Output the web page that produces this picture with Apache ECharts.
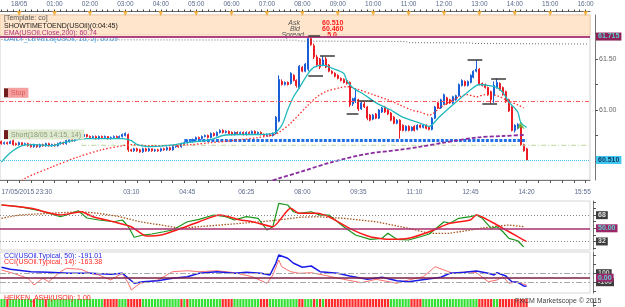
<!DOCTYPE html>
<html>
<head>
<meta charset="utf-8">
<script src="https://cdn.jsdelivr.net/npm/echarts@6/dist/echarts.min.js"></script>
<style>
  html, body { margin: 0; padding: 0; background: #fff; }
  #c { width: 625px; height: 307px; }
</style>
</head>
<body>
<div id="c"></div>
<script>
// USOil 5-minute chart, 17/05 23:30 -> 18/05 14:20 (FXCM Marketscope look)

const slotCount = 200;                 // 5-minute slots shown on the time axis
const firstSlotMinutes = 23 * 60 + 30; // 17/05 23:30

const topTickSlots = ['00:00','01:00','02:00','03:00','04:00','05:00','06:00','07:00','08:00',
  '09:00','10:00','11:00','12:00','13:00','14:00','15:00','16:00'];
const topTickText = ['18/05','01:00','02:00','03:00','04:00','05:00','06:00','07:00','08:00',
  '09:00','10:00','11:00','12:00','13:00','14:00','15:00','16:00'];
const bottomTickSlots = ['23:30','03:10','04:45','06:25','08:00','09:35','11:10','12:45','14:20','15:55'];
const bottomTickText = ['17/05/2015 23:30','03:10','04:45','06:25','08:00','09:35','11:10','12:45','14:20','15:55'];

// [open, close, low, high]
const candles = [
  [60.69,60.67,60.66,60.70],[60.67,60.68,60.66,60.69],[60.68,60.67,60.66,60.69],[60.67,60.69,60.67,60.70],
  [60.70,60.66,60.65,60.71],[60.67,60.66,60.65,60.68],[60.66,60.68,60.65,60.69],[60.68,60.66,60.65,60.68],
  [60.66,60.67,60.65,60.68],[60.67,60.65,60.64,60.68],[60.66,60.64,60.63,60.67],[60.64,60.66,60.63,60.67],
  [60.66,60.64,60.63,60.66],[60.64,60.66,60.63,60.67],[60.66,60.65,60.64,60.67],[60.65,60.67,60.64,60.68],
  [60.67,60.65,60.64,60.68],[60.65,60.66,60.64,60.67],[60.66,60.65,60.64,60.67],[60.65,60.67,60.64,60.68],
  [60.67,60.68,60.66,60.69],[60.68,60.67,60.66,60.69],[60.67,60.70,60.66,60.71],[60.69,60.71,60.68,60.72],
  [60.71,60.70,60.69,60.72],[60.70,60.73,60.69,60.74],[60.73,60.75,60.72,60.76],[60.76,60.74,60.73,60.77],
  [60.74,60.76,60.73,60.77],[60.76,60.74,60.73,60.76],[60.74,60.73,60.72,60.75],[60.73,60.74,60.72,60.75],
  [60.74,60.72,60.71,60.75],[60.72,60.74,60.71,60.75],[60.74,60.73,60.72,60.75],[60.73,60.74,60.72,60.75],
  [60.74,60.72,60.71,60.74],[60.72,60.73,60.71,60.74],[60.73,60.74,60.72,60.75],[60.74,60.73,60.72,60.75],
  [60.73,60.74,60.72,60.75],[60.74,60.76,60.73,60.77],[60.75,60.77,60.74,60.78],[60.76,60.61,60.59,60.77],
  [60.61,60.60,60.59,60.62],[60.60,60.62,60.59,60.63],[60.62,60.60,60.59,60.63],[60.61,60.59,60.58,60.62],
  [60.59,60.62,60.58,60.63],[60.62,60.60,60.59,60.63],[60.60,60.62,60.59,60.63],[60.62,60.60,60.59,60.62],
  [60.60,60.61,60.59,60.62],[60.61,60.60,60.59,60.62],[60.60,60.62,60.59,60.63],[60.62,60.61,60.60,60.63],
  [60.61,60.63,60.60,60.64],[60.63,60.61,60.60,60.64],[60.61,60.64,60.60,60.65],[60.64,60.65,60.63,60.66],
  [60.65,60.64,60.63,60.66],[60.64,60.67,60.63,60.68],[60.67,60.68,60.66,60.69],[60.68,60.70,60.67,60.71],
  [60.70,60.69,60.68,60.71],[60.69,60.71,60.68,60.72],[60.71,60.73,60.70,60.74],[60.73,60.72,60.71,60.74],
  [60.72,60.74,60.71,60.75],[60.74,60.75,60.73,60.76],[60.75,60.73,60.72,60.76],[60.73,60.77,60.72,60.78],
  [60.77,60.75,60.74,60.78],[60.75,60.78,60.74,60.79],[60.78,60.80,60.77,60.81],[60.80,60.78,60.77,60.81],
  [60.78,60.79,60.77,60.80],[60.79,60.77,60.76,60.80],[60.78,60.76,60.75,60.79],[60.76,60.78,60.75,60.79],
  [60.78,60.77,60.76,60.79],[60.77,60.78,60.76,60.79],[60.78,60.76,60.75,60.79],[60.76,60.78,60.75,60.79],
  [60.78,60.77,60.76,60.79],[60.77,60.79,60.76,60.80],[60.79,60.77,60.76,60.80],[60.77,60.78,60.76,60.79],
  [60.78,60.76,60.75,60.79],[60.76,60.75,60.74,60.77],[60.75,60.76,60.74,60.77],[60.76,60.75,60.74,60.77],
  [60.75,60.77,60.74,60.78],[60.77,60.93,60.76,60.94],[60.89,61.30,60.88,61.34],[61.28,61.25,61.24,61.30],
  [61.25,61.27,61.24,61.28],[61.27,61.25,61.24,61.28],[61.26,61.36,61.25,61.37],[61.34,61.29,61.28,61.35],
  [61.29,61.24,61.22,61.30],[61.22,61.43,61.21,61.44],[61.42,61.38,61.37,61.43],[61.38,61.45,61.37,61.46],
  [61.40,61.70,61.38,61.715],[61.70,61.64,61.63,61.71],[61.63,61.52,61.50,61.65],[61.52,61.44,61.42,61.54],
  [61.50,61.42,61.40,61.51],[61.44,61.49,61.43,61.53],[61.50,61.42,61.41,61.52],[61.44,61.38,61.37,61.45],
  [61.38,61.36,61.35,61.39],[61.36,61.33,61.32,61.37],[61.34,61.31,61.30,61.35],[61.31,61.29,61.28,61.32],
  [61.30,61.27,61.26,61.31],[61.29,61.26,61.25,61.30],[61.27,61.05,61.03,61.28],[61.06,61.11,61.04,61.12],
  [61.08,61.12,61.07,61.20],[61.10,61.01,60.99,61.11],[61.01,61.07,61.00,61.08],[61.06,61.03,61.02,61.08],
  [61.03,60.92,60.90,61.04],[60.95,60.90,60.89,60.96],[60.91,60.95,60.90,60.96],[60.96,60.92,60.91,60.97],
  [60.92,61.00,60.91,61.01],[60.98,61.02,60.97,61.03],[61.03,60.98,60.97,61.04],[61.00,60.96,60.95,61.01],
  [60.97,60.90,60.89,60.98],[60.93,60.87,60.86,60.94],[60.87,60.90,60.86,60.91],[60.90,60.80,60.72,60.91],
  [60.85,60.80,60.79,60.86],[60.80,60.84,60.79,60.85],[60.84,60.80,60.79,60.85],[60.80,60.83,60.79,60.84],
  [60.84,60.80,60.79,60.85],[60.81,60.85,60.80,60.86],[60.85,60.83,60.82,60.86],[60.83,60.85,60.82,60.86],
  [60.85,60.82,60.81,60.86],[60.83,60.81,60.80,60.84],[60.81,60.92,60.80,60.93],[60.92,61.03,60.91,61.04],
  [61.07,61.02,61.01,61.08],[61.02,61.10,61.01,61.11],[61.06,61.15,61.05,61.16],[61.12,61.06,61.05,61.13],
  [61.10,61.07,61.06,61.11],[61.07,61.13,61.06,61.14],[61.10,61.14,61.09,61.15],[61.14,61.25,61.13,61.26],
  [61.24,61.29,61.23,61.30],[61.28,61.24,61.23,61.29],[61.24,61.28,61.23,61.29],[61.27,61.34,61.26,61.35],
  [61.32,61.38,61.31,61.39],[61.38,61.40,61.37,61.49],[61.40,61.25,61.24,61.41],[61.26,61.24,61.23,61.27],
  [61.25,61.22,61.21,61.26],[61.22,61.15,61.14,61.23],[61.18,61.10,61.06,61.19],[61.14,61.24,61.07,61.28],
  [61.22,61.27,61.21,61.31],[61.26,61.20,61.19,61.27],[61.22,61.15,61.14,61.23],[61.18,61.08,61.07,61.19],
  [61.10,60.99,60.98,61.11],[61.03,60.80,60.79,61.04],[60.80,60.85,60.78,60.86],[60.82,60.86,60.81,60.87],
  [60.84,60.66,60.65,60.85],[60.66,60.60,60.59,60.67],[60.62,60.51,60.50,60.63]
];

// overlays on price, [slot, price]
const emaFast = [[0,60.49],[3,60.58],[7,60.65],[11,60.66],[17,60.65],[21,60.68],[26,60.71],[29,60.72],
  [34,60.72],[41,60.72],[44,60.70],[46,60.66],[50,60.64],[56,60.65],[63,60.68],[71,60.71],[75,60.75],
  [81,60.76],[87,60.76],[92,60.77],[95,60.85],[97,61.00],[99,61.13],[101,61.22],[104,61.36],[106,61.42],
  [109,61.44],[112,61.41],[116,61.36],[117,61.29],[119,61.22],[123,61.15],[127,61.07],[132,61.00],
  [136,60.93],[142,60.87],[145,60.84],[148,60.92],[151,61.00],[155,61.10],[160,61.22],[162,61.25],
  [164,61.245],[168,61.22],[170,61.17],[172,61.08],[175,60.98],[176,60.88],[178,60.83]];
const emaSlow = [[6,60.28],[8,60.33],[17,60.44],[26,60.54],[34,60.61],[41,60.65],[44,60.66],[50,60.65],
  [64,60.66],[71,60.68],[75,60.69],[87,60.73],[92,60.755],[94,60.78],[98,60.87],[104,61.05],[107,61.13],
  [110,61.18],[115,61.22],[117,61.23],[121,61.20],[126,61.15],[131,61.10],[135,61.05],[139,61.00],
  [142,60.98],[145,60.95],[149,61.03],[153,61.10],[158,61.15],[161,61.13],[164,61.15],[168,61.14],
  [171,61.10],[175,61.05],[177,61.02]];
const ema200 = [[90,60.29],[94,60.33],[101,60.39],[112,60.49],[124,60.57],[135,60.61],[142,60.64],
  [150,60.68],[161,60.73],[170,60.745],[177,60.755]];
const dailyBand = [[0,61.69],[100,61.685],[101,61.676],[137,61.672],[138,61.66],[159,61.658],[160,61.652],[199,61.647]];

const highLevel = 61.715;
const stopLevel = 61.09;
const entryLevel = 60.70;
const entrySpan = [62, 178];
const dailyLevel = 60.654;
const dailySpan = [27, 199];
const bidLevel = 60.51;
const signalPoint = [176, 60.89];

// fractal markers: [fromSlot, toSlot, price]
const fractals = [[104,108,61.725],[108,113,61.53],[104,109,61.34],[117,121,60.96],[121,126,61.09],
  [158,163,61.49],[166,171,61.31],[163,168,61.06]];

// oscillator panel (0..100 scale)
const oscFast = [[0,81.9],[6,79.6],[13,74.1],[20,65.9],[22,68.2],[26,74.1],[29,64.1],[33,61.4],[38,59.0],
  [41,61.4],[43,52.2],[45,37.7],[48,40.8],[51,42.2],[55,45.3],[58,47.7],[63,59.0],[67,62.3],[72,68.2],
  [76,65.9],[79,61.4],[83,65.9],[87,63.7],[90,47.7],[92,52.2],[94,84.2],[97,81.9],[99,72.7],[101,70.5],
  [105,72.7],[108,68.0],[111,68.2],[116,52.2],[120,40.8],[125,34.9],[129,36.3],[131,43.2],[134,34.9],
  [138,34.0],[142,38.5],[145,42.2],[148,52.2],[150,59.0],[152,56.8],[155,63.7],[159,65.9],[161,68.2],
  [163,63.7],[166,50.0],[168,52.2],[170,45.3],[172,36.3],[175,33.0],[177,24.8]];
const oscSignal = [[0,81.9],[10,77.4],[20,68.2],[27,72.7],[31,65.9],[38,59.0],[44,52.2],[49,39.5],
  [54,40.8],[61,50.0],[67,59.0],[74,68.2],[81,61.4],[85,59.0],[92,52.2],[98,77.4],[101,70.5],[107,70.5],
  [111,65.9],[118,50.0],[125,38.5],[132,34.9],[138,36.3],[145,45.3],[152,56.8],[159,61.4],[161,68.2],
  [166,59.0],[170,50.0],[175,38.5],[178,31.7]];
const oscSlow = [[0,63.7],[6,68.2],[16,70.5],[27,72.7],[33,70.5],[40,65.9],[47,59.0],[54,54.5],[61,50.0],
  [67,52.2],[74,54.5],[81,56.8],[88,59.0],[94,61.4],[101,65.1],[107,65.9],[116,63.7],[127,59.0],
  [138,50.0],[145,43.2],[152,43.2],[159,47.7],[166,52.2],[172,54.5],[177,52.2]];
const oscLevels = [68, 50, 32];

// CCI panel
const cci50 = [[0,231],[3,186],[10,133],[16,120],[23,98],[30,98],[37,75],[41,98],[43,-13],[45,-124],
  [48,-89],[53,-67],[58,-13],[63,22],[67,98],[73,133],[79,98],[83,120],[88,98],[91,60],[93,320],[94,504],
  [97,431],[99,320],[102,231],[105,260],[108,133],[114,98],[118,38],[124,-36],[129,9],[134,-67],[138,-89],
  [144,-36],[149,9],[152,98],[157,120],[161,149],[165,98],[167,60],[168,111],[171,38],[173,-89],
  [175,-102],[177,-184],[178,-191]];
const cci14 = [[0,171],[4,98],[9,-13],[11,-162],[14,-13],[16,-89],[20,133],[22,209],[27,186],[30,98],
  [33,60],[37,-51],[41,98],[43,-124],[44,-273],[47,-124],[53,-51],[58,133],[63,155],[67,133],[73,155],
  [79,111],[85,22],[90,-124],[92,60],[94,393],[95,244],[98,133],[101,98],[105,111],[109,60],[116,-36],
  [122,-111],[127,-36],[134,-124],[138,-51],[143,22],[147,244],[150,171],[153,98],[158,133],[161,111],
  [165,-89],[168,-51],[170,22],[172,-124],[175,-89],[177,-147],[178,-163]];

// Heiken Ashi colour runs: [count, 'G'|'R']
const haRuns = [[2,'G'],[1,'R'],[8,'G'],[1,'R'],[3,'G'],[1,'R'],[19,'G'],[5,'R'],[3,'G'],[5,'R'],[13,'G'],
  [1,'R'],[1,'G'],[1,'R'],[11,'G'],[4,'R'],[9,'G'],[3,'R'],[10,'G'],[2,'R'],[3,'G'],[1,'R'],[1,'G'],[1,'R'],
  [1,'G'],[22,'R'],[7,'G'],[4,'R'],[19,'G'],[5,'R'],[2,'G'],[10,'R']];

// ---- build ----
const pad = n => String(n).padStart(2, '0');
const slots = [];
for (let k = 0; k < slotCount; k++) {
  const m = (firstSlotMinutes + 5 * k) % 1440;
  slots.push(pad(Math.floor(m / 60)) + ':' + pad(m % 60));
}
const hourMarks = slots.map((s, i) => topTickSlots.includes(s) ? [i, 0] : null).filter(Boolean);
const haBars = [];
haRuns.forEach(([n, c]) => { for (let k = 0; k < n; k++) haBars.push({ value: 1, itemStyle: { color: c === 'G' ? '#33e033' : '#ff2a2a' } }); });

const FONT = 'Liberation Sans';
const boxLabel = (text, bg, fg) => ({
  show: true, position: 'end', formatter: text, distance: 6,
  backgroundColor: bg, color: fg, padding: [1, 2, 0, 2], fontSize: 7, fontFamily: FONT, fontWeight: 'bold'
});
const hidden = { show: false };
const catAxis = (gridIndex, extra) => Object.assign({
  type: 'category', gridIndex, data: slots, boundaryGap: true,
  axisLine: hidden, axisTick: hidden, axisLabel: hidden, splitLine: hidden
}, extra || {});

const chart = echarts.init(document.getElementById('c'));
chart.setOption({
  animation: false,
  textStyle: { fontFamily: FONT },
  grid: [
    { left: 0, right: 35, top: 11, height: 1, outerBoundsMode: 'none' },
    { left: 0, right: 35, top: 15, height: 165, show: true, borderColor: '#cfcfcf', borderWidth: 1, outerBoundsMode: 'none' },
    { left: 0, right: 35, top: 201, height: 49, show: true, borderColor: '#d6d6d6', borderWidth: 1, outerBoundsMode: 'none' },
    { left: 0, right: 35, top: 252, height: 41, show: true, borderColor: '#d6d6d6', borderWidth: 1, outerBoundsMode: 'none' },
    { left: 0, right: 35, top: 299, height: 8, outerBoundsMode: 'none' }
  ],
  xAxis: [
    catAxis(0, {
      position: 'top',
      axisLine: { show: true, lineStyle: { color: '#666', width: 1 } },
      axisTick: { show: true, length: 2, alignWithLabel: true, interval: i => i % 2 === 0, lineStyle: { color: '#444' } },
      axisLabel: {
        show: true, margin: 3, fontSize: 6.5, color: '#5b6b8c',
        interval: (i, v) => topTickSlots.includes(v),
        formatter: v => topTickText[topTickSlots.indexOf(v)]
      }
    }),
    catAxis(1, {
      position: 'bottom',
      axisLine: { show: true, lineStyle: { color: '#777', width: 1 } },
      axisTick: { show: true, length: 3, alignWithLabel: true, interval: i => i % 4 === 2, lineStyle: { color: '#555' } },
      axisLabel: {
        show: true, margin: 9, fontSize: 6.5, color: '#5b6b8c', alignMinLabel: 'left',
        interval: (i, v) => bottomTickSlots.includes(v) && !(v === '08:00' && i < 50),
        formatter: v => bottomTickText[bottomTickSlots.indexOf(v)]
      }
    }),
    catAxis(2), catAxis(3), catAxis(4)
  ],
  yAxis: [
    { type: 'value', gridIndex: 0, min: -1, max: 1, show: false },
    {
      type: 'value', gridIndex: 1, position: 'right', offset: 5, min: 60.3137, max: 61.9314,
      axisLine: { show: true, lineStyle: { color: '#777' } },
      axisTick: { show: true, length: 3, customValues: [60.25, 60.5, 60.75, 61, 61.25, 61.5, 61.75], lineStyle: { color: '#555' } },
      axisLabel: { show: true, customValues: [61, 61.5], formatter: v => v.toFixed(2), fontSize: 7, color: '#666', margin: 4 },
      splitLine: hidden
    },
    {
      type: 'value', gridIndex: 2, position: 'right', offset: 3, min: 20.3, max: 87.4,
      axisLine: { show: true, lineStyle: { color: '#777' } },
      axisTick: { show: true, length: 3, customValues: [23, 32, 41, 50, 59, 68, 77, 86], lineStyle: { color: '#555' } },
      axisLabel: hidden, splitLine: hidden
    },
    {
      type: 'value', gridIndex: 3, position: 'right', offset: 3, min: -340, max: 571,
      axisLine: { show: true, lineStyle: { color: '#777' } },
      axisTick: { show: true, length: 3, customValues: [-300, -100, 100, 300, 500], lineStyle: { color: '#555' } },
      axisLabel: hidden, splitLine: hidden
    },
    {
      type: 'value', gridIndex: 4, position: 'right', offset: 3, min: 0, max: 1,
      axisLine: { show: true, lineStyle: { color: '#777' } },
      axisTick: { show: true, length: 3, customValues: [0.2, 0.6], lineStyle: { color: '#555' } },
      axisLabel: hidden, splitLine: hidden
    }
  ],
  series: [
    {
      type: 'scatter', xAxisIndex: 0, yAxisIndex: 0, data: hourMarks, silent: true,
      symbol: 'triangle', symbolRotate: 180, symbolSize: [5, 5], symbolOffset: [0, 2],
      itemStyle: { color: '#f5a21e' }
    },
    {
      type: 'candlestick', name: 'USOil', xAxisIndex: 1, yAxisIndex: 1, data: candles, barMaxWidth: 2,
      itemStyle: { color: '#1b5fd8', color0: '#ec1c24', borderColor: '#1b5fd8', borderColor0: '#ec1c24', borderWidth: 1 },
      markLine: {
        silent: true, symbol: ['none', 'none'],
        data: [
          { yAxis: stopLevel, lineStyle: { color: '#ff5a5a', type: [4, 2, 1, 2], width: 1 },
            label: { show: true, position: 'insideStartTop', distance: [4, 3], formatter: '{sq|}{t|Stop}',
              rich: { sq: { width: 4, height: 9, backgroundColor: '#6e1c1c' },
                      t: { backgroundColor: '#f4a0a0', color: '#dc5a5a', fontSize: 7, padding: [1, 3, 0, 3], height: 9 } } } },
          { yAxis: entryLevel, lineStyle: { color: 'rgba(0,0,0,0)', width: 1 },
            label: { show: true, position: 'insideStartTop', distance: [4, 1], formatter: '{sq|}{t|Short(18/05 14:15, 14)}',
              rich: { sq: { width: 4, height: 9, backgroundColor: '#6e1c1c' },
                      t: { backgroundColor: '#dfe9cf', color: '#8d9c7a', fontSize: 7, padding: [1, 3, 0, 3], height: 9 } } } },
          { yAxis: bidLevel, lineStyle: { color: '#4cc0ea', type: 'dotted', width: 1 },
            label: boxLabel('60.510', '#3fc7f2', '#0d3557') },
          { yAxis: highLevel, lineStyle: { color: '#b0407e', type: 'solid', width: 2 },
            label: boxLabel('61.715', '#8e2158', '#5cd2d2') }
        ]
      }
    },
    {
      type: 'line', xAxisIndex: 1, yAxisIndex: 1, data: dailyBand, symbol: 'none', silent: true,
      lineStyle: { color: '#666', width: 1, type: [1, 2] }
    },
    {
      type: 'line', xAxisIndex: 1, yAxisIndex: 1, symbol: 'none', silent: true,
      data: [[dailySpan[0], dailyLevel], [dailySpan[1], dailyLevel]],
      lineStyle: { color: '#b9d79b', width: 1, type: [5, 2, 1, 2] }
    },
    {
      type: 'line', xAxisIndex: 1, yAxisIndex: 1, symbol: 'none', silent: true,
      data: [[entrySpan[0], entryLevel], [entrySpan[1], entryLevel]],
      lineStyle: { color: '#1f6fe6', width: 3, type: [3, 1.5] }
    },
    {
      type: 'line', xAxisIndex: 1, yAxisIndex: 1, data: ema200, symbol: 'none', silent: true, smooth: 0.3,
      lineStyle: { color: '#8a2c9e', width: 1.8, type: [4, 2] }
    },
    {
      type: 'line', xAxisIndex: 1, yAxisIndex: 1, data: emaSlow, symbol: 'none', silent: true, smooth: 0.3,
      lineStyle: { color: '#ff2a2a', width: 1.3, type: [1.5, 2] }
    },
    {
      type: 'line', xAxisIndex: 1, yAxisIndex: 1, data: emaFast, symbol: 'none', silent: true, smooth: 0.3,
      lineStyle: { color: '#1fb8bc', width: 1.3 }
    },
    {
      type: 'line', xAxisIndex: 1, yAxisIndex: 1, data: [], silent: true,
      markLine: {
        silent: true, symbol: ['none', 'none'], label: hidden,
        lineStyle: { color: '#3a3a3a', width: 1.5, type: 'solid' },
        data: fractals.map(([a, b, p]) => [{ coord: [a, p] }, { coord: [b, p] }])
      }
    },
    {
      type: 'scatter', xAxisIndex: 1, yAxisIndex: 1, data: [signalPoint], silent: true,
      symbol: 'arrow', symbolSize: [6, 8], itemStyle: { color: '#5cb02c' }
    },
    // oscillator
    {
      type: 'line', xAxisIndex: 2, yAxisIndex: 2, data: [], silent: true,
      markLine: {
        silent: true, symbol: ['none', 'none'],
        data: [
          { yAxis: oscLevels[0], lineStyle: { color: '#888', type: [1, 2], width: 1 }, label: boxLabel('68', '#3c3c3c', '#e0e0e0') },
          { yAxis: oscLevels[2], lineStyle: { color: '#888', type: [1, 2], width: 1 }, label: boxLabel('32', '#3c3c3c', '#e0e0e0') },
          { yAxis: oscLevels[1], lineStyle: { color: '#a8306f', type: 'solid', width: 1.5 }, label: boxLabel('50.00', '#9a2767', '#5cd2d2') }
        ]
      }
    },
    { type: 'line', xAxisIndex: 2, yAxisIndex: 2, data: oscSlow, symbol: 'none', silent: true,
      lineStyle: { color: '#a8581e', width: 1.3, type: [1.5, 1.5] } },
    { type: 'line', xAxisIndex: 2, yAxisIndex: 2, data: oscFast, symbol: 'none', silent: true,
      lineStyle: { color: '#1a961a', width: 1.2 } },
    { type: 'line', xAxisIndex: 2, yAxisIndex: 2, data: oscSignal, symbol: 'none', silent: true, smooth: 0.2,
      lineStyle: { color: '#ff1a1a', width: 1.5 } },
    // CCI
    {
      type: 'line', xAxisIndex: 3, yAxisIndex: 3, data: [], silent: true,
      markLine: {
        silent: true, symbol: ['none', 'none'],
        data: [
          { yAxis: 100, lineStyle: { color: '#aaa', type: [6, 2, 2, 2], width: 1.2 }, label: boxLabel('100', '#3c3c3c', '#cfcfcf') },
          { yAxis: -100, lineStyle: { color: '#aaa', type: [6, 2, 2, 2], width: 1.2 }, label: boxLabel('-100', '#3c3c3c', '#cfcfcf') },
          { yAxis: 0, lineStyle: { color: '#7c2044', type: 'solid', width: 1.5 }, label: boxLabel('0.00', '#9a2767', '#5cd2d2') }
        ]
      }
    },
    { type: 'line', xAxisIndex: 3, yAxisIndex: 3, data: cci14, symbol: 'none', silent: true,
      lineStyle: { color: '#ff4a4a', width: 0.8 } },
    { type: 'line', xAxisIndex: 3, yAxisIndex: 3, data: cci50, symbol: 'none', silent: true,
      lineStyle: { color: '#1c1ce8', width: 1.5 } },
    // Heiken Ashi strip
    { type: 'bar', xAxisIndex: 4, yAxisIndex: 4, data: haBars, silent: true, barCategoryGap: '25%' }
  ],
  graphic: [
    { type: 'rect', shape: { x: 0, y: 15, width: 590, height: 20 }, style: { fill: '#fee5cb', stroke: '#f1cfaa', lineWidth: 1 } },
    { type: 'text', x: 4, y: 18.5, style: { text: '[Template: co]', fill: '#555', font: '7px "Liberation Sans"', verticalAlign: 'middle' } },
    { type: 'text', x: 4, y: 25.7, style: { text: 'SHOWTIMETOEND(USOil)(0:04:45)', fill: '#1a1a1a', font: '7px "Liberation Sans"', verticalAlign: 'middle' } },
    { type: 'text', x: 4, y: 32.7, style: { text: 'EMA(USOil.Close,200): 60.74', fill: '#b0337f', font: '7px "Liberation Sans"', verticalAlign: 'middle' } },
    { type: 'text', x: 4, y: 39.5, style: { text: 'DAILY_LEVELS(USOil, 16, 5): 60.69', fill: '#4aa6ea', font: '7px "Liberation Sans"', verticalAlign: 'middle' } },
    { type: 'text', x: 300, y: 23, style: { text: 'Ask', fill: '#555', font: 'italic 7px "Liberation Sans"', align: 'right', verticalAlign: 'middle' } },
    { type: 'text', x: 300, y: 29.5, style: { text: 'Bid', fill: '#555', font: 'italic 7px "Liberation Sans"', align: 'right', verticalAlign: 'middle' } },
    { type: 'text', x: 304, y: 35.5, style: { text: 'Spread', fill: '#555', font: 'italic 7px "Liberation Sans"', align: 'right', verticalAlign: 'middle' } },
    { type: 'text', x: 322, y: 23, style: { text: '60.510', fill: '#ff1e1e', font: 'bold 7px "Liberation Sans"', verticalAlign: 'middle' } },
    { type: 'text', x: 322, y: 29.5, style: { text: '60.460', fill: '#ff1e1e', font: 'bold 7px "Liberation Sans"', verticalAlign: 'middle' } },
    { type: 'text', x: 332, y: 35.5, style: { text: '5.0', fill: '#ff1e1e', font: 'bold 7px "Liberation Sans"', align: 'center', verticalAlign: 'middle' } },
    { type: 'text', x: 4, y: 256, style: { text: 'CCI(USOil.Typical, 50): -191.01', fill: '#2424e0', font: '7px "Liberation Sans"', verticalAlign: 'middle' } },
    { type: 'text', x: 4, y: 262.5, style: { text: 'CCI(USOil.Typical, 14): -163.38', fill: '#ff2a2a', font: '7px "Liberation Sans"', verticalAlign: 'middle' } },
    { type: 'text', x: 4, y: 298.5, z: 10, style: { text: 'HEIKEN_ASHI(USOil): 1.00', fill: '#ff2020', font: '7px "Liberation Sans"', verticalAlign: 'middle' } },
    { type: 'text', x: 515, y: 301.5, z: 10, style: { text: 'FXCM Marketscope \u00a9 2015', fill: '#444', font: '7px "Liberation Sans"', verticalAlign: 'middle' } }
  ]
});
</script>
</body>
</html>
